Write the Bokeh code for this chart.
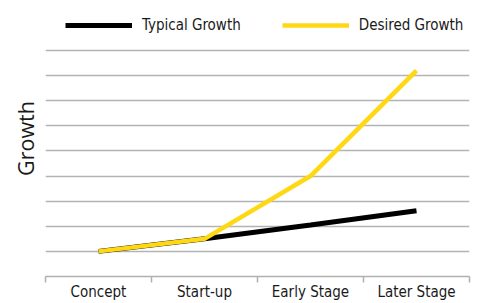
from bokeh.plotting import figure
from bokeh.models import Range1d, FixedTicker, Legend, LegendItem, Title
from bokeh.embed import file_html
from bokeh.resources import INLINE

stages = ["Concept", "Start-up", "Early Stage", "Later Stage"]
typical = [1.0, 1.5, 2.05, 2.62]
desired = [1.0, 1.5, 4.0, 8.2]
grid_values = [1, 2, 3, 4, 5, 6, 7, 8, 9]
series_names = ["Typical Growth", "Desired Growth"]

xpos = [i + 0.5 for i in range(len(stages))]
FONT = "DejaVu Sans Condensed"

p = figure(width=479, height=303, x_range=Range1d(0, len(stages)), y_range=Range1d(0, 10.99),
           output_backend="svg", toolbar_location=None,
           min_border_left=45, min_border_right=10, min_border_top=0, min_border_bottom=20)
p.outline_line_color = None
p.background_fill_color = "white"
p.border_fill_color = "white"

# x axis: labels at centres, minor ticks at boundaries
xa = p.xaxis[0]
xa.ticker = FixedTicker(ticks=xpos, minor_ticks=list(range(len(stages) + 1)))
xa.major_label_overrides = {x: s for x, s in zip(xpos, stages)}
xa.major_tick_line_color = None
xa.major_tick_out = 0
xa.major_tick_in = 0
xa.minor_tick_in = 0
xa.minor_tick_out = 6
xa.minor_tick_line_color = "#b0b0b0"
xa.minor_tick_line_width = 1.5
xa.axis_line_color = "#b0b0b0"
xa.axis_line_width = 1.5
xa.major_label_text_font = FONT
xa.major_label_text_font_size = "15px"
xa.major_label_text_color = "#1a1a1a"
xa.major_label_standoff = 0
p.xgrid.grid_line_color = None

p.yaxis.visible = False
p.ygrid.ticker = FixedTicker(ticks=grid_values)
p.ygrid.grid_line_color = "#b3b3b3"
p.ygrid.grid_line_width = 1.5

p.add_layout(Title(text="Growth", align="center", text_font="Open Sans",
                   text_font_size="21.5px", text_font_style="normal",
                   text_color="#1a1a1a", standoff=11), "left")

r1 = p.line(xpos, typical, line_color="black", line_width=5)
r2 = p.line(xpos, desired, line_color="#FFD814", line_width=4.5)

legend = Legend(items=[LegendItem(label=series_names[0], renderers=[r1]),
                       LegendItem(label=series_names[1], renderers=[r2])],
                orientation="horizontal", location=(20, 242),
                glyph_width=67, glyph_height=16, label_standoff=10, spacing=41,
                padding=0, margin=0,
                label_text_font=FONT, label_text_font_size="15px",
                label_text_color="#1a1a1a",
                background_fill_alpha=0, border_line_color=None)
p.add_layout(legend, "center")

open("out.html", "w").write(file_html(p, INLINE))
